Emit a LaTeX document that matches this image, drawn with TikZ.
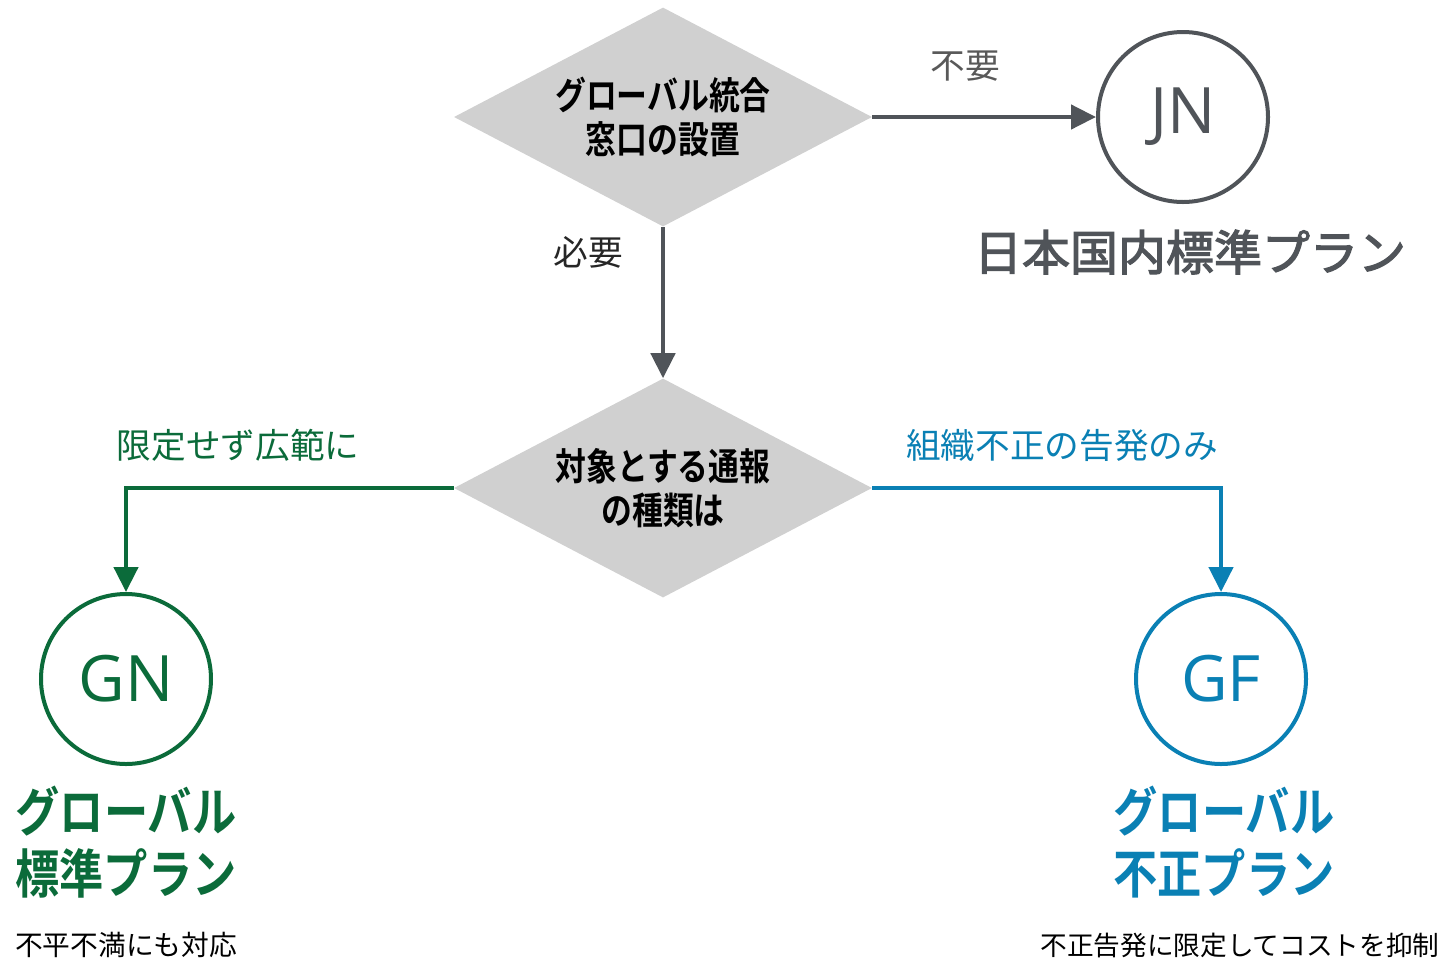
\documentclass[tikz,border=0pt]{standalone}
\usepackage{fontspec}
\setmainfont{Noto Sans CJK JP}
\newfontfamily\latinf{Open Sans}
\newfontfamily\jpbold[FakeStretch=0.82]{Noto Sans CJK JP Bold}
\newfontfamily\jptitle[FakeStretch=0.84]{Noto Sans CJK JP Bold}
\newfontfamily\jpmed[FakeBold=2.5]{Noto Sans CJK JP}
\usetikzlibrary{shapes.geometric,arrows.meta}
\definecolor{dgray}{HTML}{505459}
\definecolor{lgray}{HTML}{D0D0D0}
\definecolor{ggreen}{HTML}{0B6B3A}
\definecolor{gblue}{HTML}{0A80B4}
\definecolor{lblgray}{HTML}{595959}
\tikzset{
  dec/.style={shape=diamond, fill=lgray, inner sep=0pt, shape aspect=1.9,
    minimum width=313.5pt, minimum height=164.25pt, align=center,
    font=\jpbold\fontsize{28.2pt}{32.5pt}\selectfont, text=black},
  plan/.style={circle, line width=3pt, minimum size=127.5pt, inner sep=0pt,
    font=\latinf\fontsize{48pt}{50pt}\selectfont},
  conn/.style={line width=3.4pt, -{Triangle[length=18.75pt,width=18pt]}},
  elabel/.style={font=\fontsize{26pt}{30pt}\selectfont},
  title/.style={font=\jptitle\fontsize{39.5pt}{47pt}\selectfont, align=center},
  note/.style={font=\fontsize{20pt}{24pt}\selectfont, text=black}
}
\begin{document}
\begin{tikzpicture}[x=0.75pt,y=-0.75pt]
\useasboundingbox (0,0) rectangle (1441,961);
\node[dec] (d1) at (663,117) {グローバル統合\\窓口の設置};
\node[dec] (d2) at (663,488) {対象とする通報\\の種類は};
\node[plan, draw=dgray, text=dgray] (jn) at (1183,117) {JN};
\node[plan, draw=ggreen, text=ggreen] (gn) at (126,679) {GN};
\node[plan, draw=gblue, text=gblue] (gf) at (1221,679) {GF};

\draw[conn, dgray] (d1.east) -- (jn.west);
\draw[conn, dgray] (d1.south) -- (d2.north);
\draw[conn, ggreen] (d2.west) -| (gn.north);
\draw[conn, gblue] (d2.east) -| (gf.north);

\node[elabel, text=lblgray] (l1) at (965,66) {不要};
\node[elabel, text=black!85] (l2) at (588,252) {必要};
\node[elabel, text=ggreen] (l3) at (238,445) {限定せず広範に};
\node[elabel, text=gblue] (l4) at (1062,445) {組織不正の告発のみ};

\node[font=\jpmed\fontsize{36pt}{40pt}\selectfont, text=dgray] (t1) at (1190,252) {日本国内標準プラン};
\node[title, text=ggreen] (t2) at (126,842) {グローバル\\標準プラン};
\node[title, text=gblue] (t3) at (1224,842) {グローバル\\不正プラン};
\node[note, font=\fontsize{20.8pt}{24pt}\selectfont] (n1) at (126,945) {不平不満にも対応};
\node[note] (n2) at (1240,945) {不正告発に限定してコストを抑制};
\end{tikzpicture}
\end{document}
